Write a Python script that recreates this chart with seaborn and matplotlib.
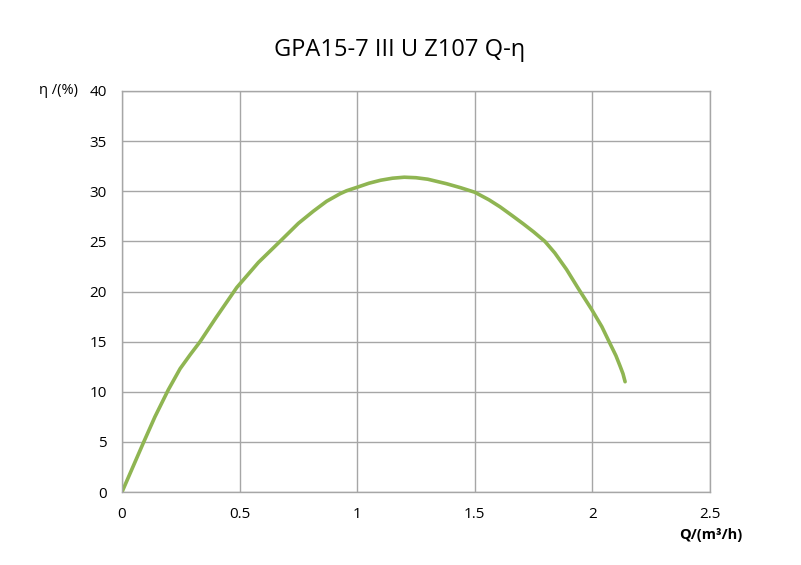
import matplotlib
matplotlib.use("Agg")
import matplotlib.pyplot as plt
import seaborn as sns
import pandas as pd

flow = [0.0, 0.05, 0.09, 0.14, 0.197, 0.247, 0.29, 0.332, 0.40, 0.488, 0.58, 0.672, 0.75, 0.813, 0.87,
        0.927, 0.955, 1.0, 1.05, 1.10, 1.15, 1.2, 1.25, 1.3, 1.38, 1.44, 1.50, 1.56, 1.607, 1.66,
        1.706, 1.75, 1.798, 1.84, 1.89, 1.94, 1.997, 2.04, 2.075, 2.10, 2.117, 2.13, 2.139]
eff = [0.0, 2.7, 4.86, 7.5, 10.2, 12.3, 13.7, 15.0, 17.4, 20.4, 22.9, 25.0, 26.8, 28.0, 29.0,
       29.75, 30.05, 30.4, 30.8, 31.1, 31.3, 31.4, 31.35, 31.2, 30.75, 30.35, 29.9, 29.15, 28.45, 27.55,
       26.75, 25.95, 25.0, 23.85, 22.2, 20.3, 18.2, 16.5, 14.8, 13.6, 12.6, 11.8, 11.0]
x_ticks = [0, 0.5, 1, 1.5, 2, 2.5]
x_labels = ["0", "0.5", "1", "1.5", "2", "2.5"]
y_ticks = [0, 5, 10, 15, 20, 25, 30, 35, 40]

sns.set_theme(style="white")
plt.rcParams['font.family'] = ['Open Sans', 'DejaVu Sans']
plt.rcParams['text.color'] = 'black'

df = pd.DataFrame({"Q": flow, "eta": eff})

fig = plt.figure(figsize=(8.01, 5.65), dpi=100)
ax = fig.add_axes([122/801, 1-492/565, (710-122)/801, (492-91)/565])
sns.lineplot(data=df, x="Q", y="eta", ax=ax, color="#8fb552", linewidth=2.6, sort=False)
ax.lines[0].set_solid_joinstyle("round")
ax.lines[0].set_solid_capstyle("round")

ax.set_xlim(0, 2.5)
ax.set_ylim(0, 40)
ax.set_xticks(x_ticks)
ax.set_xticklabels(x_labels)
ax.set_yticks(y_ticks)
ax.grid(True, color="#a6a6a6", linewidth=1.0)
for s in ax.spines.values():
    s.set_color("#a6a6a6")
    s.set_linewidth(1.0)
ax.tick_params(axis="both", which="both", length=5, width=1.0, color="#a6a6a6",
               labelsize=11, labelcolor="black", pad=6)
ax.set_xlabel("")
ax.set_ylabel("")

fig.text(400/801, 1-50/565, "GPA15-7 III U Z107 Q-η", ha="center", va="center", fontsize=17, color="black")
fig.text(78/801, 1-91/565, "η /(%)", ha="right", va="center", fontsize=10.5, color="black")
fig.text(711/801, 1-535/565, "Q/(m³/h)", ha="center", va="center", fontsize=10.5, fontweight="bold", color="black")

fig.savefig("out.png", dpi=100)
